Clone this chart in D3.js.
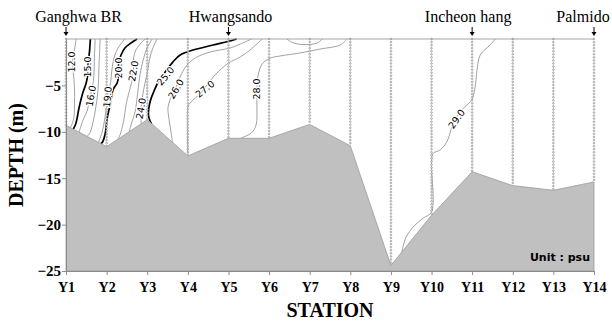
<!DOCTYPE html>
<html>
<head>
<meta charset="utf-8">
<script src="https://cdn.jsdelivr.net/npm/d3@7"></script>
<style>
  html, body { margin: 0; padding: 0; background: #fff; }
  svg { display: block; }
</style>
</head>
<body>
<svg id="chart" width="612" height="322"></svg>
<script>
// ---- data -------------------------------------------------------------
const stations = ["Y1","Y2","Y3","Y4","Y5","Y6","Y7","Y8","Y9","Y10","Y11","Y12","Y13","Y14"];
// bottom depth (m) at each station
const bottomDepth = [-9.3, -11.6, -8.7, -12.6, -10.7, -10.7, -9.2, -11.5, -24.4, -19.0, -14.3, -15.8, -16.3, -15.4];
const depthTicks = [-5, -10, -15, -20, -25];

const placeNames = ["Ganghwa BR", "Hwangsando", "Incheon hang", "Palmido"];
const placeStations = [1, 5, 11, 14];

// salinity isolines, points as [station position, depth]
const sal12 = [[1.25,0],[1.21,-1.1],[1.17,-1.7],[1.16,-2.5],[1.17,-3.3],[1.19,-4.0],[1.21,-5.5],[1.21,-6.9],[1.19,-8.6],[1.11,-9.55]];
const sal15 = [[1.60,0],[1.58,-1.29],[1.56,-2.05],[1.54,-3.02],[1.53,-3.99],[1.49,-4.85],[1.42,-5.71],[1.36,-6.68],[1.31,-7.65],[1.27,-8.62],[1.23,-9.27],[1.18,-9.71]];
const sal16 = [[1.72,0],[1.70,-1.83],[1.68,-4.31],[1.64,-5.28],[1.59,-6.36],[1.52,-7.76],[1.42,-8.73],[1.32,-10.04]];
const sal17 = [[1.84,0],[1.81,-3.2],[1.79,-5.4],[1.71,-8.0],[1.59,-10.1],[1.52,-10.49]];
const sal19 = [[2.45,0],[2.28,-0.97],[2.18,-2.05],[2.13,-3.34],[2.10,-4.63],[2.05,-5.71],[2.0,-6.4],[1.99,-7.43],[1.95,-8.73],[1.89,-10.02],[1.80,-11.14]];
const sal20 = [[2.75,0],[2.60,-0.43],[2.45,-0.97],[2.355,-1.72],[2.30,-2.48],[2.295,-3.88],[2.26,-4.74],[2.18,-5.28],[2.13,-5.93],[2.10,-6.90],[2.05,-7.76],[2.01,-8.62],[1.97,-10.10],[1.90,-11.1],[1.86,-11.28]];
const sal22 = [[2.95,0],[2.85,-0.43],[2.72,-1.19],[2.67,-1.94],[2.66,-3.34],[2.63,-4.42],[2.58,-5.28],[2.49,-6.86],[2.41,-9.02],[2.33,-10.34],[2.28,-10.79]];
const sal23 = [[3.12,0],[2.995,-0.97],[2.90,-2.26],[2.82,-3.88],[2.76,-6.03],[2.70,-7.86],[2.60,-9.27],[2.56,-9.96]];
const sal24 = [[3.24,0],[3.14,-0.97],[3.07,-1.94],[3.0,-3.66],[2.91,-5.5],[2.85,-7.4],[2.85,-9.14]];
const sal25 = [[5.20,0],[4.99,-0.27],[4.62,-0.65],[4.13,-1.19],[3.81,-1.72],[3.64,-2.44],[3.44,-3.56],[3.27,-4.63],[3.16,-5.68],[3.07,-6.76],[3.03,-8.19],[3.07,-8.84],[3.11,-9.13]];
const sal26 = [[5.57,0],[5.29,-0.54],[5.04,-0.97],[4.55,-1.40],[4.18,-2.05],[3.96,-2.91],[3.81,-4.09],[3.69,-5.39],[3.56,-6.57],[3.51,-7.43],[3.54,-8.73],[3.59,-10.13],[3.62,-11.13]];
const sal27 = [[5.83,0],[5.53,-1.19],[5.29,-1.94],[5.0,-2.59],[4.67,-3.88],[4.47,-4.96],[4.30,-5.93],[4.10,-6.68],[4.01,-7.22],[3.99,-9.27],[4.0,-12.4]];
const sal28 = [[7.92,0],[7.75,-0.65],[7.26,-1.08],[6.76,-1.51],[6.27,-1.83],[6.02,-2.08],[5.83,-2.69],[5.73,-3.88],[5.70,-5.39],[5.70,-7.11],[5.68,-9.27],[5.56,-10.13],[5.31,-10.67]];
const sal28b = [[6.44,0],[6.57,-0.38],[6.76,-0.57],[7.01,-0.59],[7.21,-0.38],[7.31,0]];
const sal29 = [[11.57,0],[11.44,-0.65],[11.20,-1.72],[11.12,-3.34],[11.07,-5.28],[10.99,-6.57],[10.87,-7.11],[10.70,-7.86],[10.51,-9.37],[10.38,-11.06],[10.21,-11.96],[10.04,-12.32],[10.0,-13.25],[10.0,-18.65],[9.80,-19.29],[9.57,-20.15],[9.37,-21.37],[9.27,-22.95]];

const contourLevels = [12, 15, 16, 17, 19, 20, 22, 23, 24, 25, 26, 27, 28, 28, 29];
const contourLines  = [sal12, sal15, sal16, sal17, sal19, sal20, sal22, sal23, sal24, sal25, sal26, sal27, sal28, sal28b, sal29];

// ---- layout -----------------------------------------------------------
const plot = { left: 66, right: 594, top: 39, bottom: 271 };
const x = d3.scaleLinear().domain([1, 14]).range([plot.left, plot.right]);
const y = d3.scaleLinear().domain([0, -25]).range([plot.top, plot.bottom]);

// where each labelled isoline carries its value: [station pos, depth, angle]
const labelSpots = new Map([
  [12, [1.148, -2.48, -90]],
  [15, [1.542, -3.02, -90]],
  [16, [1.616, -6.14, -80]],
  [19, [2.022, -6.25, -85]],
  [20, [2.293, -3.13, -90]],
  [22, [2.663, -3.45, -80]],
  [24, [2.847, -7.49, -80]],
  [25, [3.451, -3.99, -50]],
  [26, [3.709, -5.39, -60]],
  [27, [4.424, -5.39, -40]],
  [28, [5.704, -5.39, -90]],
  [29, [10.618, -8.62, -55]]
]);
const placeDx = [12.5, 2, -4, -11];

const svg = d3.select("#chart");
const serif = "'Liberation Serif', 'Times New Roman', serif";
const sans = "'DejaVu Sans', Verdana, sans-serif";

// ---- isolines ---------------------------------------------------------
const line = d3.line()
  .x(d => x(d[0]))
  .y(d => y(d[1]))
  .curve(d3.curveCatmullRom.alpha(0.5));

svg.append("g").selectAll("path")
  .data(contourLines.map((pts, i) => ({ level: contourLevels[i], pts })))
  .join("path")
  .attr("d", d => line(d.pts))
  .attr("fill", "none")
  .attr("stroke", d => d.level % 5 === 0 ? "#000" : "#8a8a8a")
  .attr("stroke-width", d => d.level % 5 === 0 ? 1.7 : 0.8);

// ---- CTD casts (sampling points down each station) --------------------
const sampleStep = 0.33;
const casts = svg.append("g");
stations.forEach((s, i) => {
  const depths = d3.range(0, bottomDepth[i], -sampleStep);
  casts.selectAll(null)
    .data(depths)
    .join("circle")
    .attr("cx", x(i + 1))
    .attr("cy", d => y(d))
    .attr("r", 0.85)
    .attr("fill", "#f6f6f6")
    .attr("stroke", "#8c8c8c")
    .attr("stroke-width", 0.7);
});

// ---- sea bed ----------------------------------------------------------
const bed = bottomDepth.map((d, i) => [i + 1, d]);
bed.push([14, -25], [1, -25]);
svg.append("path")
  .attr("d", d3.line().x(d => x(d[0])).y(d => y(d[1]))(bed) + "Z")
  .attr("fill", "#c0c0c0")
  .attr("stroke", "#9a9a9a")
  .attr("stroke-width", 0.8);

// ---- isoline values ---------------------------------------------------
const labelData = contourLevels
  .filter((lv, i) => contourLevels.indexOf(lv) === i && labelSpots.has(lv))
  .map(lv => ({ level: lv, spot: labelSpots.get(lv) }));
svg.append("g").selectAll("text")
  .data(labelData)
  .join("text")
  .attr("transform", d => `translate(${x(d.spot[0])},${y(d.spot[1])}) rotate(${d.spot[2]})`)
  .attr("text-anchor", "middle")
  .attr("dy", "0.35em")
  .attr("font-family", sans)
  .attr("font-size", 9.5)
  .attr("fill", "#000")
  .attr("stroke", "#fff")
  .attr("stroke-width", 2.5)
  .attr("paint-order", "stroke")
  .text(d => d.level.toFixed(1));

// ---- surface line -----------------------------------------------------
svg.append("line")
  .attr("x1", x(1)).attr("x2", x(14))
  .attr("y1", y(0)).attr("y2", y(0))
  .attr("stroke", "#9a9a9a").attr("stroke-width", 0.9);

// ---- axes -------------------------------------------------------------
const xAxis = svg.append("g")
  .attr("transform", `translate(0,${plot.bottom})`)
  .call(d3.axisBottom(x)
    .tickValues(d3.range(1, 15))
    .tickFormat(i => stations[i - 1])
    .tickSize(4).tickSizeOuter(0).tickPadding(7));
const yAxis = svg.append("g")
  .attr("transform", `translate(${plot.left},0)`)
  .call(d3.axisLeft(y)
    .tickValues(depthTicks)
    .tickSize(4).tickSizeOuter(0).tickPadding(1));
[xAxis, yAxis].forEach(g => {
  g.select(".domain").attr("stroke", "#8a8a8a");
  g.selectAll(".tick line").attr("stroke", "#8a8a8a");
  g.selectAll(".tick text")
    .attr("fill", "#000")
    .attr("font-family", serif)
    .attr("font-weight", "bold");
});
xAxis.selectAll(".tick text").attr("font-size", 14);
yAxis.selectAll(".tick text").attr("font-size", 15);

svg.append("text")
  .attr("x", (plot.left + plot.right) / 2)
  .attr("y", 317)
  .attr("text-anchor", "middle")
  .attr("font-family", serif).attr("font-weight", "bold").attr("font-size", 20)
  .text("STATION");

svg.append("text")
  .attr("transform", `translate(23,${(plot.top + plot.bottom) / 2}) rotate(-90)`)
  .attr("text-anchor", "middle")
  .attr("font-family", serif).attr("font-weight", "bold").attr("font-size", 20)
  .text("DEPTH (m)");

svg.append("text")
  .attr("x", 590).attr("y", 261)
  .attr("text-anchor", "end")
  .attr("font-family", sans).attr("font-weight", "bold").attr("font-size", 11)
  .text("Unit : psu");

// ---- place names with arrows -----------------------------------------
const places = svg.append("g");
placeNames.forEach((name, i) => {
  const px = x(placeStations[i]);
  places.append("text")
    .attr("x", px + placeDx[i]).attr("y", 22)
    .attr("text-anchor", "middle")
    .attr("font-family", serif).attr("font-size", 16)
    .text(name);
  places.append("line")
    .attr("x1", px).attr("x2", px)
    .attr("y1", 27).attr("y2", 33)
    .attr("stroke", "#000").attr("stroke-width", 1);
  places.append("path")
    .attr("d", `M${px - 2.5},${32} L${px + 2.5},${32} L${px},${36} Z`)
    .attr("fill", "#000");
});
</script>
</body>
</html>
